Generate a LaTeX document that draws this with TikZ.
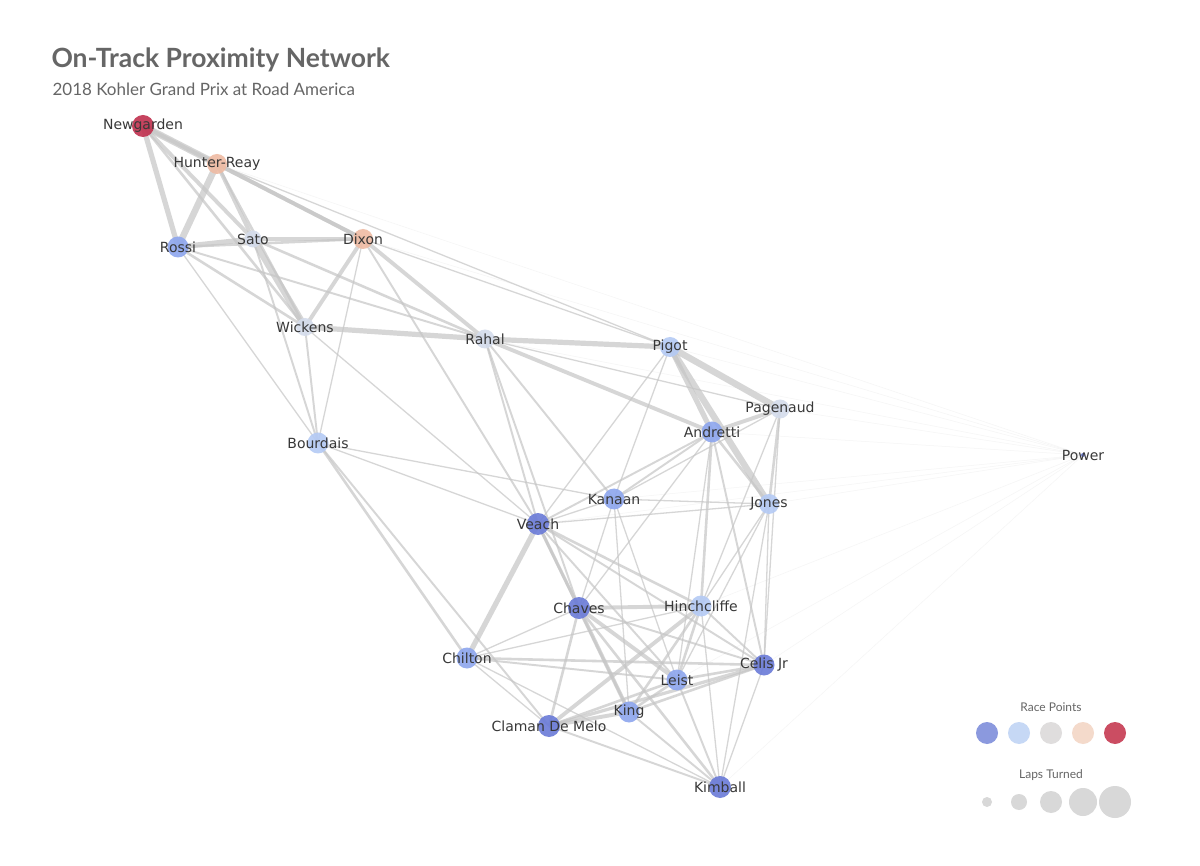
\documentclass[tikz,border=0pt]{standalone}
\usepackage{fontspec}
\setmainfont{Lato}
\newfontfamily\lab{DejaVu Sans}
\begin{document}
\begin{tikzpicture}[x=1pt,y=-1pt,
  e/.style={draw=gray!45,line width=1.3*#1pt,opacity=0.7},
  pe/.style={draw=gray!30,line width=0.5pt,opacity=0.25},
  dot/.style={circle,inner sep=0pt,minimum size=#1pt,opacity=0.9},
  lbl/.style={font=\lab\fontsize{14}{14}\selectfont,text=black!78}]
\definecolor{cA}{HTML}{6A7BD8}
\definecolor{cB}{HTML}{8DA6EE}
\definecolor{cC}{HTML}{B4CAF5}
\definecolor{cD}{HTML}{D4DCEC}
\definecolor{cE}{HTML}{EFBBA3}
\definecolor{cF}{HTML}{C0304E}
\useasboundingbox (0,0) rectangle (1200,866);
\fill[white] (0,0) rectangle (1200,866);
\foreach \n/\x/\y in {Newgarden/143/126,HunterReay/217/164,Rossi/178/247,Sato/253/239,Dixon/363/239,Wickens/305/327,Rahal/485/339,Pigot/670/347,Pagenaud/780/409,Andretti/712/432,Power/1083/455,Bourdais/318/443,Kanaan/614/499,Jones/769/504,Veach/538/524,Chaves/579/608,Hinchcliffe/701/606,Chilton/467/658,Celis/764/665,Leist/677/680,King/629/712,Claman/549/726,Kimball/720/787}
  {\coordinate (\n) at (\x,\y);}
% Power faint edges
\foreach \t in {Jones,Kanaan,Hinchcliffe,Celis,Kimball,Pagenaud,Andretti,Pigot,Rahal,Dixon,HunterReay,Leist,Veach}
  {\draw[pe] (Power) -- (\t);}
\foreach \a/\b/\w in {Newgarden/HunterReay/5,Newgarden/Rossi/4,Newgarden/Sato/3,Newgarden/Dixon/3,Newgarden/Wickens/2,
HunterReay/Rossi/5,HunterReay/Sato/3,HunterReay/Dixon/3,HunterReay/Wickens/2,HunterReay/Pigot/1,
Rossi/Sato/4,Rossi/Dixon/2,Rossi/Wickens/2,Rossi/Rahal/1.5,Rossi/Bourdais/1,
Sato/Dixon/3,Sato/Wickens/5,Sato/Rahal/2,Sato/Bourdais/1.5,
Dixon/Wickens/3,Dixon/Rahal/3,Dixon/Bourdais/1,Dixon/Veach/1.5,Dixon/Pigot/1,
Wickens/Rahal/4,Wickens/Bourdais/1.5,Wickens/Veach/1,
Rahal/Pigot/4,Rahal/Andretti/3,Rahal/Veach/1.5,Rahal/Chaves/1.5,Rahal/Kanaan/1.5,Rahal/Pagenaud/1,
Pigot/Pagenaud/5,Pigot/Andretti/4,Pigot/Jones/5,Pigot/Kanaan/1,Pigot/Veach/1,
Pagenaud/Andretti/3,Pagenaud/Jones/2,Pagenaud/Hinchcliffe/1,Pagenaud/Celis/1,Pagenaud/Kanaan/1,
Andretti/Jones/2,Andretti/Kanaan/1.5,Andretti/Veach/1.5,Andretti/Hinchcliffe/2,Andretti/Celis/1.5,Andretti/Leist/1,Andretti/Chaves/1,
Bourdais/Kanaan/1,Bourdais/Veach/1,Bourdais/Chilton/2,Bourdais/Claman/1.5,
Kanaan/Jones/1,Kanaan/Veach/1,Kanaan/Chaves/1,Kanaan/Leist/1,Kanaan/King/1,
Jones/Veach/1,Jones/Hinchcliffe/1,Jones/Celis/1,Jones/Kimball/1,Jones/Leist/1,
Veach/Chaves/2.5,Veach/Chilton/4,Veach/Hinchcliffe/2,Veach/Leist/1.5,Veach/King/2,Veach/Celis/1.5,
Chaves/Hinchcliffe/3,Chaves/Leist/3,Chaves/King/3,Chaves/Celis/1.5,Chaves/Chilton/1,Chaves/Claman/2,Chaves/Kimball/2,
Hinchcliffe/Celis/1.5,Hinchcliffe/Leist/2,Hinchcliffe/King/2,Hinchcliffe/Claman/3,Hinchcliffe/Chilton/1,Hinchcliffe/Kimball/1,
Chilton/Celis/2,Chilton/Claman/1,Chilton/Leist/1.5,Chilton/Kimball/1,
Celis/Leist/2,Celis/King/2,Celis/Claman/2.5,Celis/Kimball/1,
Leist/King/2,Leist/Claman/2,Leist/Kimball/1.5,
King/Claman/3,King/Kimball/1.5,Claman/Kimball/1.5}
  {\draw[e=\w] (\a) -- (\b);}
% nodes
\foreach \n/\c/\s/\t in {Newgarden/cF/22/Newgarden,HunterReay/cE/20/Hunter-Reay,Rossi/cB/21/Rossi,Sato/cD/17/Sato,Dixon/cE/20/Dixon,Wickens/cD/18/Wickens,Rahal/cD/19/Rahal,Pigot/cC/20/Pigot,Pagenaud/cD/19/Pagenaud,Andretti/cB/21/Andretti,Power/cA/4/Power,Bourdais/cC/21/Bourdais,Kanaan/cB/21/Kanaan,Jones/cC/20/Jones,Veach/cA/22/Veach,Chaves/cA/22/Chaves,Hinchcliffe/cC/21/Hinchcliffe,Chilton/cB/21/Chilton,Celis/cA/21/Celis Jr,Leist/cB/21/Leist,King/cB/21/King,Claman/cA/22/Claman De Melo,Kimball/cA/22/Kimball}
  {\node[dot=\s,fill=\c] (n\n) at (\n) {};
   \node[lbl] (t\n) at (\n) {\t};}
% title
\node[anchor=base west,font=\bfseries\fontsize{26.5}{26.5}\selectfont,text=black!60] (title) at (48,68) {On-Track Proximity Network};
\node[anchor=base west,font=\fontsize{17}{17}\selectfont,text=black!60] (sub) at (49,96) {2018 Kohler Grand Prix at Road America};
% legend
\node[font=\fontsize{12}{12}\selectfont,text=black!60] (lrp) at (1051,707) {Race Points};
\foreach \i/\c in {0/7F8FDB,1/C0D4F5,2/DCDADA,3/F3D6C6,4/C63A52}
  {\definecolor{lc}{HTML}{\c}\node[dot=22,fill=lc] (lp\i) at (987+32*\i,733) {};}
\node[font=\fontsize{12}{12}\selectfont,text=black!60] (llt) at (1051,775) {Laps Turned};
\foreach \i/\s in {0/10,1/16,2/22,3/28,4/32}
  {\node[dot=\s,fill=black!17] (ls\i) at (987+32*\i,802) {};}
\end{tikzpicture}
\end{document}
